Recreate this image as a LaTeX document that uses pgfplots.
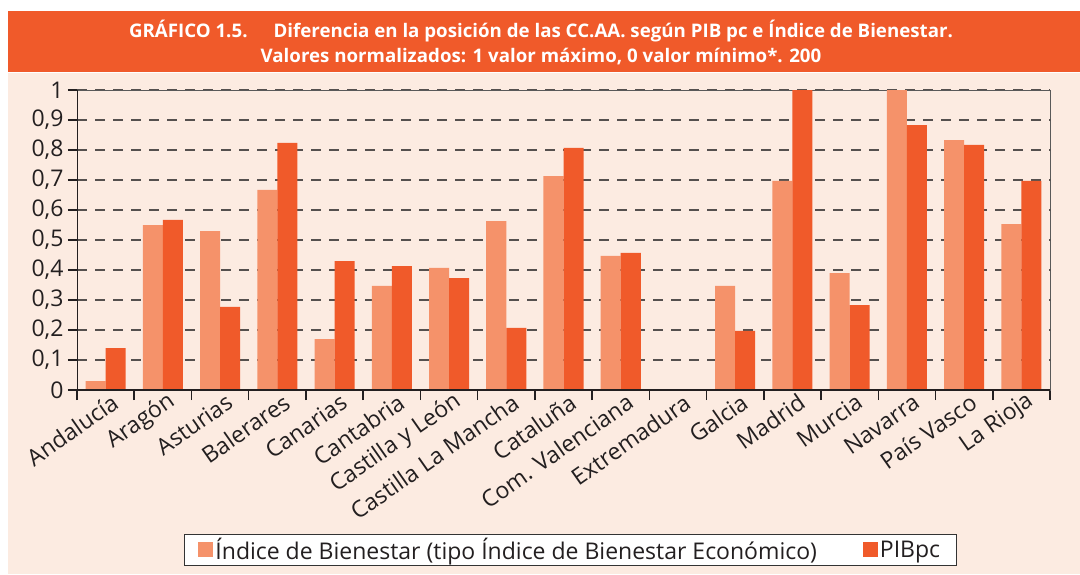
\documentclass[border=0pt]{standalone}
\usepackage{fontspec}
\setmainfont{Open Sans}
\usepackage{pgfplots}
\pgfplotsset{compat=1.18}
\definecolor{lightbar}{RGB}{245,146,106}
\definecolor{darkbar}{RGB}{240,90,42}
\definecolor{band}{RGB}{240,90,42}
\definecolor{cream}{RGB}{252,235,225}
\definecolor{gridc}{RGB}{85,80,78}
\definecolor{txt}{RGB}{35,31,32}
\begin{document}
\begin{tikzpicture}[x=1pt,y=1pt]
\fill[white] (0,0) rectangle (1080,-574);
\fill[band] (8,-11) rectangle (1080,-72);
\fill[cream] (8,-73) rectangle (1080,-574);
\node[text=white, font=\bfseries\fontsize{18.7}{25}\selectfont, align=center] at (541,-42)
 {GRÁFICO 1.5.\hspace{26pt}Diferencia en la posición de las CC.AA. según PIB pc e Índice de Bienestar.\\
  Valores normalizados: 1 valor máximo, 0 valor mínimo*. 200};
\begin{axis}[
  at={(77pt,-390pt)}, anchor=south west, scale only axis,
  width=973pt, height=300pt,
  xmin=-0.5, xmax=16.5, ymin=0, ymax=1,
  ybar=0pt, bar width=0.35,
  axis line style={draw=gray!70!black, line width=0.8pt},
  ymajorgrids, grid style={dash pattern=on 10pt off 8pt, gridc, line width=1.1pt},
  ytick={0,0.1,0.2,0.3,0.4,0.5,0.6,0.7,0.8,0.9,1},
  yticklabels={0,{0,1},{0,2},{0,3},{0,4},{0,5},{0,6},{0,7},{0,8},{0,9},1},
  ytick pos=left, xtick pos=bottom,
  tick align=outside, major tick length=9pt,
  y tick style={line width=1.5pt, txt},
  xtick={0,...,16},
  xticklabels={Andalucía,Aragón,Asturias,Balerares,Canarias,Cantabria,Castilla y León,Castilla La Mancha,Cataluña,Com. Valenciana,Extremadura,Galcia,Madrid,Murcia,Navarra,País Vasco,La Rioja},
  major x tick style={draw=none},
  minor xtick={-0.5,0.5,...,16.5},
  minor tick length=10pt,
  minor x tick style={line width=1.5pt, txt},
  tick label style={font=\fontsize{23}{26}\selectfont, text=txt},
  /pgf/number format/assume math mode=true,
  xticklabel style={rotate=35, anchor=east, xshift=11pt, yshift=-6pt},
  yticklabel style={xshift=-1pt},
  legend style={at={(0.507,-0.533)}, anchor=center, legend columns=2, draw=black!80, fill=white,
     font=\fontsize{23}{26}\selectfont, text=txt, inner xsep=14pt, inner ysep=2pt,
     /tikz/every even column/.append style={column sep=44pt}},
  legend image code/.code={\fill[#1] (0pt,-7pt) rectangle (15pt,8pt);},
]
\addplot[fill=lightbar, draw=none] coordinates {
(0,0.03) (1,0.55) (2,0.53) (3,0.667) (4,0.17) (5,0.347) (6,0.407) (7,0.563) (8,0.713)
(9,0.447) (10,0) (11,0.347) (12,0.697) (13,0.39) (14,1.0) (15,0.833) (16,0.553)};
\addplot[fill=darkbar, draw=none] coordinates {
(0,0.14) (1,0.567) (2,0.277) (3,0.824) (4,0.43) (5,0.413) (6,0.373) (7,0.207) (8,0.807)
(9,0.457) (10,0) (11,0.197) (12,1.0) (13,0.283) (14,0.883) (15,0.817) (16,0.697)};
\legend{Índice de Bienestar (tipo Índice de Bienestar Económico),PIBpc}
\draw[line width=2.2pt, txt] (rel axis cs:0,1) -- (rel axis cs:0,0) -- (rel axis cs:1,0);
\pgfplotsinvokeforeach{0.1,0.2,0.3,0.4,0.5,0.6,0.7,0.8,0.9}{
  \draw[line width=1.5pt, txt] (axis cs:16.5,#1) -- ++(-7pt,0);}
\end{axis}
\end{tikzpicture}
\end{document}
